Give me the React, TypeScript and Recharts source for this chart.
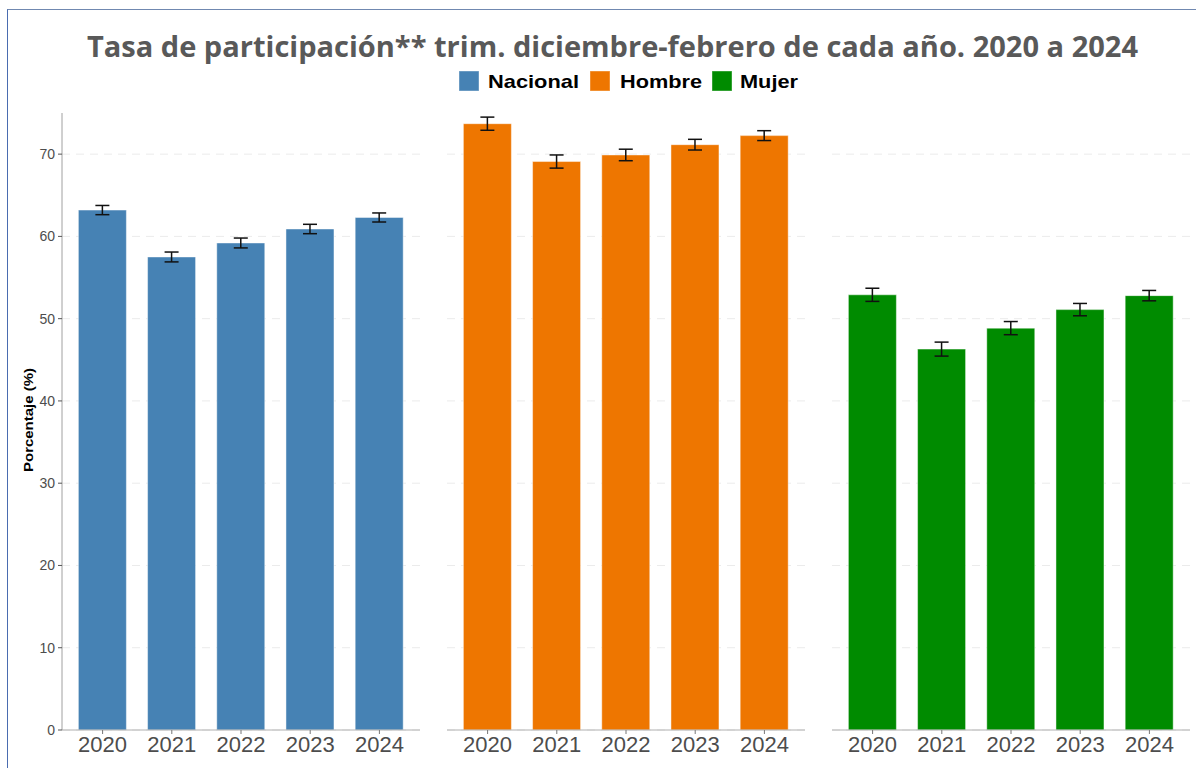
import { BarChart, Bar, XAxis, YAxis, CartesianGrid, ErrorBar } from 'recharts'

const YEARS = ['2020', '2021', '2022', '2023', '2024']
const NACIONAL = [63.2, 57.5, 59.2, 60.9, 62.3]
const NACIONAL_ERR = [0.56, 0.6, 0.6, 0.57, 0.55]
const HOMBRE = [73.7, 69.1, 69.9, 71.15, 72.25]
const HOMBRE_ERR = [0.8, 0.8, 0.7, 0.65, 0.6]
const MUJER = [52.9, 46.3, 48.85, 51.1, 52.8]
const MUJER_ERR = [0.8, 0.85, 0.8, 0.75, 0.63]
const Y_TICKS = [0, 10, 20, 30, 40, 50, 60, 70]

const SERIES = [
  { name: 'Nacional', color: '#4682B4', values: NACIONAL, errors: NACIONAL_ERR },
  { name: 'Hombre', color: '#EE7600', values: HOMBRE, errors: HOMBRE_ERR },
  { name: 'Mujer', color: '#008B00', values: MUJER, errors: MUJER_ERR },
]

const FONT = '"Liberation Sans", Arial, sans-serif'

function Panel({ idx, left, width }: { idx: number; left: number; width: number }) {
  const s = SERIES[idx]
  const showAxis = idx === 0
  const data = YEARS.map((year, i) => ({ year, value: s.values[i], err: s.errors[i] }))

  return (
    <div style={{ position: 'absolute', left, top: 0 }}>
      <BarChart
        width={width}
        height={768}
        data={data}
        margin={{ top: 113, right: 0, bottom: 8, left: 0 }}
        barCategoryGap="15%"
      >
        <CartesianGrid
          vertical={false}
          horizontalValues={Y_TICKS}
          stroke="#ebebeb"
          strokeDasharray="8 6"
        />
        <XAxis
          dataKey="year"
          height={30}
          interval={0}
          padding={{ left: 6, right: 6 }}
          stroke="#b0b0b0"
          tickSize={4}
          tickMargin={2}
          tickLine={{ stroke: '#777' }}
          tick={{ fill: '#4d4d4d', fontSize: 22, fontFamily: FONT }}
        />
        <YAxis
          hide={!showAxis}
          width={showAxis ? 62 : 0}
          domain={[0, 75]}
          ticks={Y_TICKS}
          stroke="#a0a0a0"
          tickSize={4}
          tickMargin={3}
          tickLine={{ stroke: '#555' }}
          tick={{ fill: '#4d4d4d', fontSize: 14, fontFamily: FONT }}
        />
        <Bar dataKey="value" fill={s.color} stroke="#ffffff" strokeOpacity={0.45} isAnimationActive={false}>
          <ErrorBar dataKey="err" direction="y" width={7} stroke="#111" strokeWidth={1.5} />
        </Bar>
      </BarChart>
    </div>
  )
}

const LEGEND = [
  { x: 459, tx: 488, tw: 91 },
  { x: 590, tx: 620, tw: 82 },
  { x: 712, tx: 740, tw: 58 },
]

export default function App() {
  return (
    <div
      style={{
        position: 'absolute',
        left: 0,
        top: 0,
        width: 1196,
        height: 768,
        background: '#fff',
        overflow: 'hidden',
      }}
    >
      <div
        style={{
          position: 'absolute',
          left: 7,
          top: 9,
          width: 1200,
          height: 780,
          borderLeft: '1.5px solid #4a6cb0',
          borderTop: '1.5px solid #7088b0',
        }}
      />
      <Panel idx={0} left={0} width={420} />
      <Panel idx={1} left={447} width={358} />
      <Panel idx={2} left={832} width={358} />

      <svg width={1196} height={768} style={{ position: 'absolute', left: 0, top: 0, pointerEvents: 'none' }}>
        <text
          x={87}
          y={57}
          textLength={1051}
          lengthAdjust="spacingAndGlyphs"
          fontFamily='"Open Sans", sans-serif'
          fontWeight={700}
          fontSize={29}
          fill="#595959"
        >
          Tasa de participación** trim. diciembre-febrero de cada año. 2020 a 2024
        </text>
        {SERIES.map((s, i) => (
          <g key={s.name}>
            <rect x={LEGEND[i].x} y={71} width={20} height={20} fill={s.color} stroke="#ffffff" strokeOpacity={0.4} />
            <text
              x={LEGEND[i].tx}
              y={88}
              textLength={LEGEND[i].tw}
              lengthAdjust="spacingAndGlyphs"
              fontFamily={FONT}
              fontWeight={700}
              fontSize={19}
              fill="#000"
            >
              {s.name}
            </text>
          </g>
        ))}
        <text
          transform="translate(33 420) rotate(-90)"
          textAnchor="middle"
          textLength={104}
          lengthAdjust="spacingAndGlyphs"
          fontFamily={FONT}
          fontWeight={700}
          fontSize={13}
          fill="#000"
        >
          Porcentaje (%)
        </text>
      </svg>
    </div>
  )
}
